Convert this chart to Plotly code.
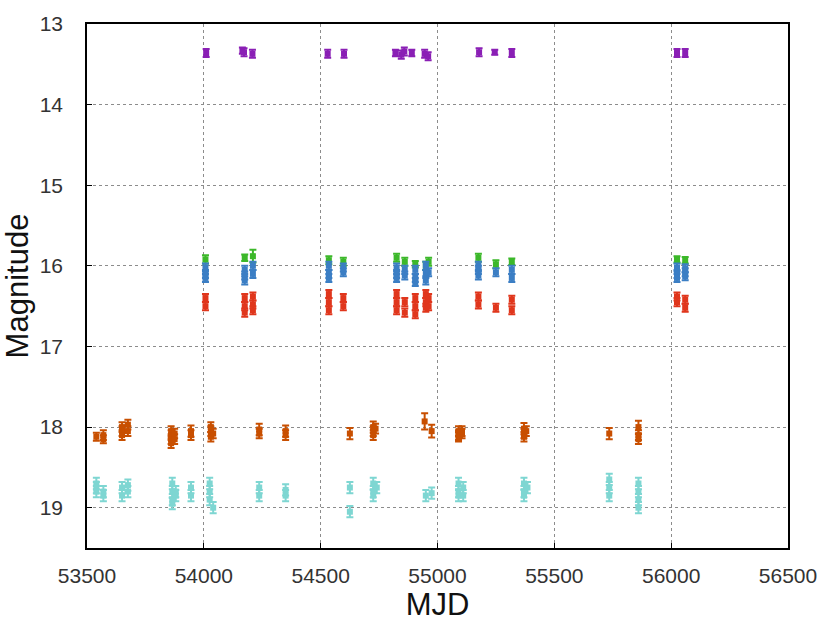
import plotly.graph_objects as go

# ---- data ----
purple_x = [54010, 54165, 54172, 54208, 54530, 54600, 54820, 54845, 54858, 54890, 54945, 54960, 55178, 55245, 55318, 56025, 56060]
purple_y = [13.36, 13.33, 13.35, 13.37, 13.37, 13.37, 13.36, 13.38, 13.34, 13.36, 13.37, 13.40, 13.35, 13.35, 13.36, 13.36, 13.36]
purple_e = [0.05, 0.04, 0.05, 0.05, 0.05, 0.05, 0.04, 0.05, 0.05, 0.04, 0.05, 0.05, 0.05, 0.03, 0.05, 0.05, 0.05]

green_x = [54007, 54175, 54210, 54535, 54597, 54825, 54860, 54905, 54950, 54962, 55175, 55250, 55318, 56025, 56060]
green_y = [15.92, 15.90, 15.88, 15.93, 15.95, 15.90, 15.95, 15.98, 16.00, 15.95, 15.90, 15.98, 15.95, 15.92, 15.93]
green_e = [0.05, 0.04, 0.08, 0.05, 0.05, 0.05, 0.05, 0.04, 0.05, 0.05, 0.05, 0.05, 0.04, 0.04, 0.04]

blue_x = [54007, 54007, 54007, 54175, 54175, 54175, 54210, 54210, 54535, 54535, 54535, 54597, 54597,
          54825, 54825, 54825, 54860, 54860, 54905, 54905, 54905, 54950, 54950, 54950, 54962,
          55175, 55175, 55175, 55250, 55318, 55318, 56025, 56025, 56025, 56060, 56060, 56060]
blue_y = [16.02, 16.10, 16.15, 16.05, 16.12, 16.18, 16.00, 16.10, 16.00, 16.10, 16.15, 16.02, 16.08,
          16.02, 16.10, 16.15, 16.05, 16.12, 16.05, 16.15, 16.20, 16.00, 16.10, 16.18, 16.08,
          16.00, 16.05, 16.12, 16.08, 16.05, 16.15, 16.02, 16.10, 16.15, 16.03, 16.08, 16.13]
blue_e = [0.05] * len(blue_x)

red_x = [54007, 54007, 54175, 54175, 54175, 54210, 54210, 54210, 54535, 54535, 54535, 54597, 54597,
         54825, 54825, 54825, 54860, 54860, 54905, 54905, 54905, 54950, 54950, 54950, 54962, 54962,
         55175, 55175, 55250, 55318, 55318, 56025, 56025, 56060, 56060]
red_y = [16.40, 16.50, 16.40, 16.50, 16.58, 16.38, 16.48, 16.55, 16.35, 16.45, 16.55, 16.40, 16.50,
         16.35, 16.45, 16.55, 16.45, 16.58, 16.40, 16.50, 16.60, 16.35, 16.45, 16.52, 16.40, 16.50,
         16.38, 16.48, 16.52, 16.42, 16.55, 16.38, 16.45, 16.42, 16.52]
red_e = [0.05] * len(red_x)

orange_x = [53540, 53570, 53570, 53650, 53650, 53650, 53675, 53675, 53860, 53860, 53860, 53860, 53875, 53875,
            53945, 53945, 54030, 54030, 54030, 54040, 54237, 54237, 54350, 54350, 54625, 54725, 54725, 54725,
            54735, 54945, 54975, 55090, 55090, 55090, 55105, 55105, 55370, 55370, 55370, 55380, 55735,
            55860, 55860, 55860]
orange_y = [18.12, 18.10, 18.15, 18.00, 18.05, 18.10, 17.97, 18.05, 18.05, 18.10, 18.15, 18.20, 18.08, 18.15,
            18.05, 18.10, 18.00, 18.05, 18.12, 18.08, 18.03, 18.08, 18.05, 18.10, 18.08, 18.00, 18.05, 18.10,
            18.02, 17.93, 18.05, 18.05, 18.10, 18.12, 18.08, 18.05, 18.02, 18.08, 18.12, 18.05, 18.08,
            18.00, 18.10, 18.15]
orange_e = [0.05, 0.06, 0.05, 0.06, 0.06, 0.06, 0.06, 0.06, 0.06, 0.06, 0.06, 0.06, 0.06, 0.06,
            0.07, 0.06, 0.06, 0.06, 0.06, 0.06, 0.07, 0.06, 0.07, 0.06, 0.07, 0.07, 0.06, 0.06,
            0.06, 0.10, 0.08, 0.06, 0.06, 0.06, 0.06, 0.06, 0.07, 0.06, 0.06, 0.06, 0.07,
            0.08, 0.06, 0.06]

cyan_x = [53540, 53540, 53540, 53570, 53570, 53650, 53650, 53675, 53675, 53865, 53865, 53865, 53865, 53880, 53880,
          53945, 53945, 54025, 54025, 54025, 54040, 54237, 54237, 54350, 54350, 54625, 54625, 54725, 54725, 54725,
          54740, 54950, 54975, 55090, 55090, 55090, 55110, 55110, 55370, 55370, 55370, 55385,
          55735, 55735, 55735, 55860, 55860, 55860, 55860]
cyan_y = [18.70, 18.75, 18.80, 18.80, 18.85, 18.75, 18.85, 18.72, 18.80, 18.70, 18.80, 18.90, 18.95, 18.80, 18.85,
          18.75, 18.85, 18.70, 18.80, 18.90, 19.00, 18.75, 18.85, 18.78, 18.85, 18.75, 19.05, 18.70, 18.80, 18.85,
          18.75, 18.85, 18.82, 18.70, 18.80, 18.85, 18.75, 18.85, 18.70, 18.80, 18.85, 18.75,
          18.65, 18.75, 18.85, 18.70, 18.80, 18.90, 19.00]
cyan_e = [0.07] * len(cyan_x)

series = [
    (purple_x, purple_y, purple_e, "#8a1fb5"),
    (green_x, green_y, green_e, "#3cb82a"),
    (blue_x, blue_y, blue_e, "#3b7ec4"),
    (red_x, red_y, red_e, "#e0361c"),
    (orange_x, orange_y, orange_e, "#c84f00"),
    (cyan_x, cyan_y, cyan_e, "#7ed6d2"),
]

fig = go.Figure()
for xs, ys, es, col in series:
    fig.add_trace(go.Scatter(
        x=xs, y=ys, mode="markers",
        marker=dict(symbol="square", size=6, color=col),
        error_y=dict(type="data", array=es, visible=True, color=col, thickness=2, width=3.5),
        showlegend=False,
    ))

tickfont = dict(family="Liberation Sans, Arial", size=21, color="#333333")
titlefont = dict(family="Liberation Sans, Arial", size=31, color="#111111")

fig.update_layout(
    width=829, height=625,
    margin=dict(l=87, r=38, t=18, b=76),
    paper_bgcolor="white", plot_bgcolor="white",
    xaxis=dict(
        range=[53500, 56500], tickvals=[53500, 54000, 54500, 55000, 55500, 56000, 56500],
        ticktext=["53500", "54000", "54500", "55000", "55500", "56000", "56500"],
        showgrid=True, gridcolor="#8c8c8c", griddash="dot", gridwidth=1,
        showline=True, linecolor="black", linewidth=1.5, mirror=True,
        ticks="inside", ticklen=5, tickcolor="black",
        tickfont=tickfont, zeroline=False, ticklabelstandoff=8,
        title=dict(text="MJD", font=titlefont, standoff=4),
    ),
    yaxis=dict(
        range=[19.5, 13], tickvals=[13, 14, 15, 16, 17, 18, 19],
        ticktext=["13", "14", "15", "16", "17", "18", "19"],
        showgrid=True, gridcolor="#8c8c8c", griddash="dot", gridwidth=1,
        showline=True, linecolor="black", linewidth=1.5, mirror=True,
        ticks="inside", ticklen=5, tickcolor="black",
        tickfont=tickfont, zeroline=False, ticklabelstandoff=18,
        title=dict(text="Magnitude", font=titlefont, standoff=4),
    ),
)

fig.write_html("out.html")
